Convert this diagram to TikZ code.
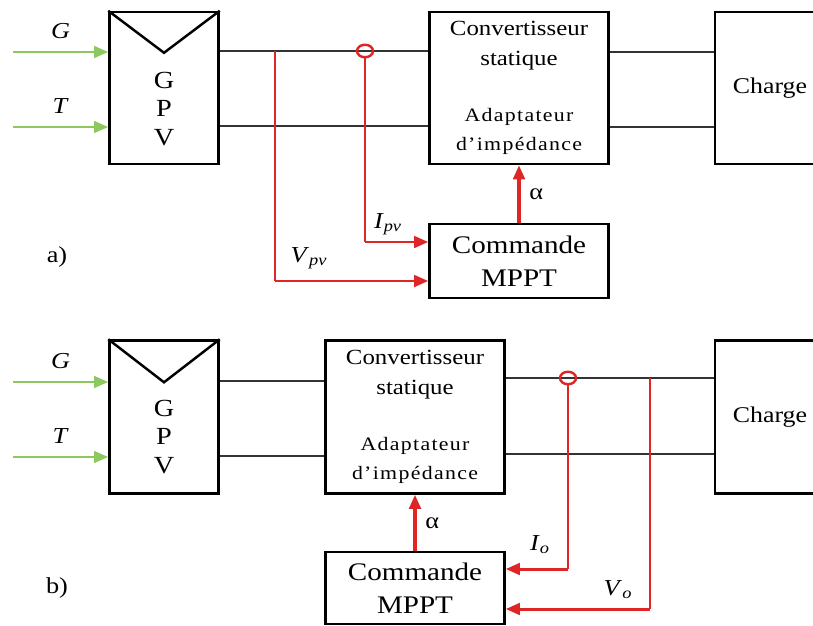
\documentclass[tikz,border=0pt]{standalone}
\usepackage{fontspec}
\setmainfont[FakeStretch=1.15]{Liberation Serif}
\usetikzlibrary{shapes,arrows.meta,positioning,calc}

\definecolor{rougemes}{RGB}{222,38,38}
\definecolor{vertent}{RGB}{140,200,95}
\newcommand{\adapt}[1]{{\fontsize{10.8}{17}\selectfont\addfontfeature{LetterSpace=7}#1}}
\newcommand{\grandeur}[2]{\textit{#1}\textsubscript{\textit{#2}}}

\tikzset{
  bloc/.style={draw, rectangle, line width=1.4pt, minimum height=3.04cm, inner sep=0pt, align=center},
  convtxt/.style={font=\fontsize{12.3}{17}\selectfont},
  cmdtxt/.style={font=\fontsize{14.4}{18.7}\selectfont},
  lettres/.style={align=center, font=\fontsize{14}{16.4}\selectfont},
  etiq/.style={font=\fontsize{13}{15}\selectfont, inner sep=0pt},
  fil/.style={line width=0.9pt, draw=black!80},
  mesure/.style={draw=rougemes, line width=0.8pt},
  retour/.style={draw=rougemes, line width=1.7pt, -{Triangle[length=8pt, width=6.5pt]}},
  entree/.style={draw=vertent, line width=1.6pt, -{Triangle[length=8pt, width=6.5pt]}},
  capteur/.style={ellipse, draw=rougemes, line width=1.4pt, minimum width=0.32cm, minimum height=0.25cm, inner sep=0pt},
}

\begin{document}
\begin{tikzpicture}[x=0.02cm, y=-0.02cm]
\useasboundingbox (0,0) rectangle (813,625);

% ---------- a) ----------
% GPV
\node[bloc, minimum width=2.18cm] (gpvA) at (164,88) {};
\draw[line width=1.4pt] (gpvA.north west) -- ($(gpvA.north)+(0,42)$) -- (gpvA.north east);
\node[lettres] (txtA) at (164,109) {G\\P\\V};

% convertisseur
\node[bloc, convtxt, minimum width=3.58cm] (convA) at (519,88)
  {Convertisseur\\statique\\[0.52cm]\adapt{Adaptateur}\\\adapt{d'impédance}};

% charge
\node[bloc, minimum width=2.2cm, font=\fontsize{12.8}{15}\selectfont] (chargeA) at (770,88) {Charge};

% commande
\node[bloc, cmdtxt, minimum width=3.58cm, minimum height=1.48cm] (mpptA) at (519,261) {Commande\\MPPT};

% entrees
\coordinate (srcGA) at (13,52);
\coordinate (srcTA) at (13,127);
\draw[entree] (srcGA) -- node[etiq, above=7pt] (lblGA) {\textit{G}} (gpvA.west |- srcGA);
\draw[entree] (srcTA) -- node[etiq, above=7pt] (lblTA) {\textit{T}} (gpvA.west |- srcTA);

% liaisons
\draw[fil] ($(gpvA.east)+(0,-37)$) -- ($(convA.west)+(0,-37)$);
\draw[fil] ($(gpvA.east)+(0,38)$) -- ($(convA.west)+(0,38)$);
\draw[fil] ($(convA.east)+(0,-36)$) -- ($(chargeA.west)+(0,-36)$);
\draw[fil] ($(convA.east)+(0,39)$) -- ($(chargeA.west)+(0,39)$);

% mesures
\node[capteur] (sensA) at (365,51) {};
\coordinate (entIA) at ($(mpptA.west)+(0,-19)$);
\coordinate (entVA) at ($(mpptA.west)+(0,20)$);
\coordinate (priseVA) at (275,51);
\draw[mesure] (sensA) -- (sensA |- entIA);
\draw[retour] (sensA |- entIA) -- (entIA);
\draw[mesure] (priseVA) -- (priseVA |- entVA);
\draw[retour] (priseVA |- entVA) -- (entVA);
\node[etiq] (lblIA) at (388,224) {\grandeur{I}{pv}};
\node[etiq] (lblVA) at (309,258) {\grandeur{V}{pv}};

% rapport cyclique
\draw[retour, line width=1.9pt] (mpptA) -- node[etiq, right=5pt] (alphaA) {α} (convA);

\node[etiq] (nomA) at (57,257) {a)};

% ---------- b) ----------
% GPV
\node[bloc, minimum width=2.18cm, minimum height=3.06cm] (gpvB) at (164,417) {};
\draw[line width=1.4pt] (gpvB.north west) -- ($(gpvB.north)+(0,43)$) -- (gpvB.north east);
\node[lettres] (txtB) at (164,437) {G\\P\\V};

% convertisseur
\node[bloc, convtxt, minimum width=3.58cm, minimum height=3.06cm] (convB) at (415,417)
  {Convertisseur\\statique\\[0.52cm]\adapt{Adaptateur}\\\adapt{d'impédance}};

% charge
\node[bloc, minimum width=2.2cm, minimum height=3.06cm, font=\fontsize{12.8}{15}\selectfont] (chargeB) at (770,417) {Charge};

% commande
\node[bloc, cmdtxt, minimum width=3.58cm, minimum height=1.44cm] (mpptB) at (415,588) {Commande\\MPPT};

% entrees
\coordinate (srcGB) at (13,382);
\coordinate (srcTB) at (13,457);
\draw[entree] (srcGB) -- node[etiq, above=7pt] (lblGB) {\textit{G}} (gpvB.west |- srcGB);
\draw[entree] (srcTB) -- node[etiq, above=7pt] (lblTB) {\textit{T}} (gpvB.west |- srcTB);

% liaisons
\draw[fil] ($(gpvB.east)+(0,-36)$) -- ($(convB.west)+(0,-36)$);
\draw[fil] ($(gpvB.east)+(0,39)$) -- ($(convB.west)+(0,39)$);
\draw[fil] ($(convB.east)+(0,-39)$) -- ($(chargeB.west)+(0,-39)$);
\draw[fil] ($(convB.east)+(0,37)$) -- ($(chargeB.west)+(0,37)$);

% mesures
\node[capteur] (sensB) at (568,378) {};
\coordinate (entIB) at ($(mpptB.east)+(0,-19)$);
\coordinate (entVB) at ($(mpptB.east)+(0,21)$);
\coordinate (priseVB) at (650,378);
\draw[mesure] (sensB) -- (sensB |- entIB);
\draw[retour] (sensB |- entIB) -- (entIB);
\draw[mesure] (priseVB) -- (priseVB |- entVB);
\draw[retour] (priseVB |- entVB) -- (entVB);
\node[etiq] (lblIB) at (540,545) {\grandeur{I}{o}};
\node[etiq] (lblVB) at (618,590) {\grandeur{V}{o}};

% rapport cyclique
\draw[retour, line width=1.9pt] (mpptB) -- node[etiq, right=5pt] (alphaB) {α} (convB);

\node[etiq] (nomB) at (57,588) {b)};
\end{tikzpicture}
\end{document}
